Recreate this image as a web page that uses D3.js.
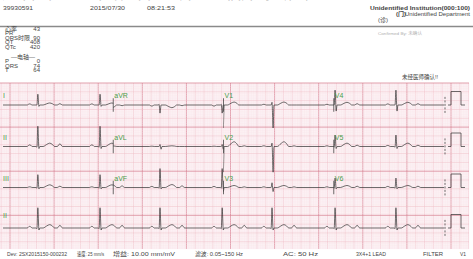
<!doctype html>
<html lang="zh">
<head>
<meta charset="UTF-8" />
<title>ECG 12 lead</title>
<script src="https://d3js.org/d3.v7.min.js"></script>
<style>
  body { margin: 0; background: #fff; }
  svg { display: block; font-family: 'Liberation Sans', 'Noto Sans CJK SC', sans-serif; }
  .hdr { fill: #444; font-size: 6px; }
  .lead-label { fill: #4a9e4a; font-size: 7px; font-family: 'Liberation Sans', sans-serif; }
  .trace { fill: none; stroke: #303030; stroke-width: 0.7px; }
</style>
</head>
<body>
<div id="chart"></div>
<script>
// ---- data ----
var beatTimes = [0.79, 2.20, 3.56, 4.97, 6.10, 7.53, 8.91];   // seconds, R peaks

var leadNames = ['I', 'II', 'III', 'aVR', 'aVL', 'aVF', 'V1', 'V2', 'V3', 'V4', 'V5', 'V6'];
// amplitudes in mV, same order as leadNames
var pAmp = [0.08, 0.12, 0.05, -0.08, 0.02, 0.08, 0.05, 0.05, 0.05, 0.08, 0.08, 0.08];
var qAmp = [0, -0.05, -0.05, 0.05, 0, -0.05, 0, 0, 0, 0, -0.05, -0.05];
var rAmp = [0.8, 1.5, 0.95, -0.6, 0.15, 1.4, 0.2, 0.25, 0.35, 1.1, 0.85, 0.7];
var sAmp = [-0.1, -0.15, -0.1, 0, -0.2, -0.1, -1.7, -1.9, -0.3, -0.45, -0.15, -0.1];
var tAmp = [0.15, 0.25, 0.2, -0.2, 0.05, 0.22, 0.22, 0.35, 0.15, 0.2, 0.25, 0.15];
var uAmp = [0.1, 0.2, 0.1, -0.05, 0, 0.12, 0, 0.05, 0.05, 0.1, 0.1, 0.1];

// 3x4 layout + rhythm strip
var layoutRows = [['I', 'aVR', 'V1', 'V4'], ['II', 'aVL', 'V2', 'V5'], ['III', 'aVF', 'V3', 'V6']];
var rhythmLead = 'II';

// beat shape: [offset s, wave, fraction]
var beatShape = [
  [-0.24, 'P', 0], [-0.21, 'P', 0.7], [-0.185, 'P', 1], [-0.16, 'P', 0.7], [-0.13, 'P', 0],
  [-0.04, 'Q', 0], [-0.02, 'Q', 1], [0, 'R', 1], [0.025, 'S', 1], [0.045, 'S', 0],
  [0.12, 'T', 0], [0.2, 'T', 0.6], [0.27, 'T', 1], [0.33, 'T', 0.6], [0.38, 'T', 0],
  [0.44, 'U', 0], [0.5, 'U', 1], [0.56, 'U', 0]
];

var measureLabels = ['心率', 'PR', 'QRS时限', 'QT', 'QTc'];
var measureValues = ['43', '', '90', '408', '420'];
var measureY = [30.5, 35, 39.5, 44, 48.5];
var axisLabels = ['P', 'QRS', 'T'];
var axisValues = ['0', '74', '64'];
var axisY = [63, 67.5, 72];

var footerTexts = ['Dev: 2SX2015150-000232', '速度: 25 mm/s', '增益: 10.00 mm/mV', '滤波: 0.05~150 Hz', 'AC: 50 Hz', '3X4+1 LEAD', 'FILTER', 'V1'];
var footerX0 = [7, 77, 113, 195, 283, 356, 423, 460];
var footerX1 = [67, 104, 175, 243, 318, 386, 443, 466];

// ---- page ----
var W = 473, H = 259;
var svg = d3.select('#chart').append('svg').attr('width', W).attr('height', H);

var gridTop = 83, gridBottom = 249, gridLeft = 0, gridRight = 469;
var x = d3.scaleLinear().domain([0, 10]).range([3, 444]);
var mm = (x(1) - x(0)) / 25;
var pxPerMv = 13.5;
var rowBase = [105, 146.5, 187.5, 228];

// grid
var grid = svg.append('g');
grid.append('rect').attr('x', gridLeft).attr('y', gridTop)
  .attr('width', gridRight - gridLeft).attr('height', gridBottom - gridTop).attr('fill', '#fdf5f7');

var lineStyle = function (i) {
  if (i % 25 === 0) return ['#d98898', 0.8];
  if (i % 5 === 0) return ['#f1c0ca', 0.55];
  return ['#fae3e8', 0.35];
};
var gx0 = gridLeft + 10 - 25 * mm, gy0 = gridTop;
d3.range(0, Math.ceil((gridRight - gx0) / mm) + 1).forEach(function (i) {
  var xx = gx0 + i * mm;
  if (xx < gridLeft || xx > gridRight) return;
  var s = lineStyle(i);
  grid.append('line').attr('x1', xx).attr('x2', xx)
    .attr('y1', gridTop).attr('y2', gridBottom).attr('stroke', s[0]).attr('stroke-width', s[1]);
});
d3.range(0, Math.floor((gridBottom - gy0) / mm) + 1).forEach(function (i) {
  var yy = gy0 + i * mm;
  var s = lineStyle(i);
  grid.append('line').attr('y1', yy).attr('y2', yy)
    .attr('x1', gridLeft).attr('x2', gridRight).attr('stroke', s[0]).attr('stroke-width', s[1]);
});

// trace builder
function leadPoints(name) {
  var k = leadNames.indexOf(name);
  var amp = { P: pAmp[k], Q: qAmp[k], R: rAmp[k], S: sAmp[k], T: tAmp[k], U: uAmp[k] };
  var pts = [[0, 0]];
  beatTimes.forEach(function (bt) {
    beatShape.forEach(function (b) { pts.push([bt + b[0], amp[b[1]] * b[2]]); });
  });
  pts.push([10, 0]);
  return pts.filter(function (p) { return p[0] >= 0 && p[0] <= 10; });
}

var defs = svg.append('defs');
var colW = x(2.5) - x(0);
d3.range(4).forEach(function (c) {
  defs.append('clipPath').attr('id', 'col' + c).append('rect')
    .attr('x', x(c * 2.5)).attr('y', 0).attr('width', colW).attr('height', H);
});

var traces = svg.append('g');
layoutRows.forEach(function (row, r) {
  var base = rowBase[r];
  var y = d3.scaleLinear().domain([-1, 1]).range([base + pxPerMv, base - pxPerMv]);
  var line = d3.line().x(function (d) { return x(d[0]); }).y(function (d) { return y(d[1]); })
    .curve(d3.curveMonotoneX);
  row.forEach(function (name, c) {
    traces.append('path').attr('class', 'trace').attr('clip-path', 'url(#col' + c + ')')
      .attr('d', line(leadPoints(name)));
    traces.append('text').attr('class', 'lead-label')
      .attr('x', x(c * 2.5) + (c === 0 ? 0 : 1)).attr('y', base - 7).text(name);
    if (c > 0) {
      traces.append('line').attr('x1', x(c * 2.5)).attr('x2', x(c * 2.5))
        .attr('y1', y(0.5)).attr('y2', y(-0.5)).attr('stroke', '#303030').attr('stroke-width', 0.7);
    }
  });
});

// rhythm strip
(function () {
  var base = rowBase[3];
  var y = d3.scaleLinear().domain([-1, 1]).range([base + pxPerMv, base - pxPerMv]);
  var line = d3.line().x(function (d) { return x(d[0]); }).y(function (d) { return y(d[1]); })
    .curve(d3.curveMonotoneX);
  traces.append('path').attr('class', 'trace').attr('d', line(leadPoints(rhythmLead)));
  traces.append('text').attr('class', 'lead-label').attr('x', x(0)).attr('y', base - 10).text(rhythmLead);
})();

// end markers + calibration pulses
rowBase.forEach(function (base) {
  var y = d3.scaleLinear().domain([-1, 1]).range([base + pxPerMv, base - pxPerMv]);
  traces.append('line').attr('x1', x(10) + 1).attr('x2', x(10) + 1)
    .attr('y1', y(0.6)).attr('y2', y(-0.6)).attr('stroke', '#303030').attr('stroke-width', 0.7)
    .attr('stroke-dasharray', '2,1.5');
  var p0 = x(10) + 7, p1 = p0 + 10;
  traces.append('path').attr('class', 'trace')
    .attr('d', 'M' + (p0 - 3) + ',' + y(0) + 'H' + p0 + 'V' + y(1) + 'H' + p1 + 'V' + y(0) + 'H' + (p1 + 4));
});

// ---- header ----
var hdr = svg.append('g');
hdr.append('text').attr('class', 'hdr').attr('x', 2).attr('y', -1.5).attr('font-size', 7)
  .attr('textLength', 358).attr('lengthAdjust', 'spacingAndGlyphs')
  .text('姓名:          性别:      年龄:      科室:        床号:         临床诊断:        检查号:');
hdr.append('text').attr('class', 'hdr').attr('x', 3).attr('y', 10)
  .attr('textLength', 30).attr('lengthAdjust', 'spacingAndGlyphs').text('39930591');
hdr.append('text').attr('class', 'hdr').attr('x', 90).attr('y', 10)
  .attr('textLength', 35).attr('lengthAdjust', 'spacingAndGlyphs').text('2015/07/30');
hdr.append('text').attr('class', 'hdr').attr('x', 147).attr('y', 10)
  .attr('textLength', 28).attr('lengthAdjust', 'spacingAndGlyphs').text('08:21:53');
hdr.append('text').attr('class', 'hdr').attr('x', 370).attr('y', 10)
  .attr('font-weight', 'bold').attr('font-size', 6.5).attr('fill', '#333')
  .attr('textLength', 100).attr('lengthAdjust', 'spacingAndGlyphs').text('Unidentified Institution(000:100)');
hdr.append('text').attr('class', 'hdr').attr('x', 396).attr('y', 15.5)
  .attr('font-weight', 'bold').attr('font-size', 5).text('(门)');
hdr.append('text').attr('class', 'hdr').attr('x', 405).attr('y', 15.5).attr('font-size', 4)
  .attr('textLength', 65).attr('lengthAdjust', 'spacingAndGlyphs').text('Unidentified Department');
hdr.append('text').attr('class', 'hdr').attr('x', 378).attr('y', 21.5).attr('font-size', 4.5).text('(诊)');
hdr.append('line').attr('x1', 0).attr('x2', W).attr('y1', 26.5).attr('y2', 26.5)
  .attr('stroke', '#8a8a8a').attr('stroke-width', 1.5);

measureLabels.forEach(function (t, i) {
  hdr.append('text').attr('class', 'hdr').attr('font-size', 3.6).attr('x', 5).attr('y', measureY[i]).text(t);
  hdr.append('text').attr('class', 'hdr').attr('font-size', 3.6).attr('x', 40).attr('y', measureY[i])
    .attr('text-anchor', 'end').text(measureValues[i]);
});
hdr.append('text').attr('class', 'hdr').attr('font-size', 5).attr('x', 23).attr('y', 58.5)
  .attr('text-anchor', 'middle').text('—电轴—');
axisLabels.forEach(function (t, i) {
  hdr.append('text').attr('class', 'hdr').attr('font-size', 3.6).attr('x', 5).attr('y', axisY[i]).text(t);
  hdr.append('text').attr('class', 'hdr').attr('font-size', 3.6).attr('x', 40).attr('y', axisY[i])
    .attr('text-anchor', 'end').text(axisValues[i]);
});
hdr.append('text').attr('x', 378).attr('y', 35).attr('font-size', 4).attr('fill', '#b0b0b0')
  .attr('textLength', 44).attr('lengthAdjust', 'spacingAndGlyphs').text('Confirmed By: 未确认');
hdr.append('text').attr('class', 'hdr').attr('x', 402).attr('y', 79).attr('font-size', 4.5)
  .attr('textLength', 36).attr('lengthAdjust', 'spacingAndGlyphs').text('未经医师确认!!');

// footer
footerTexts.forEach(function (t, i) {
  svg.append('text').attr('class', 'hdr').attr('x', footerX0[i]).attr('y', 255.5)
    .attr('font-size', 4.5).attr('textLength', footerX1[i] - footerX0[i])
    .attr('lengthAdjust', 'spacingAndGlyphs').text(t);
});
</script>
</body>
</html>
